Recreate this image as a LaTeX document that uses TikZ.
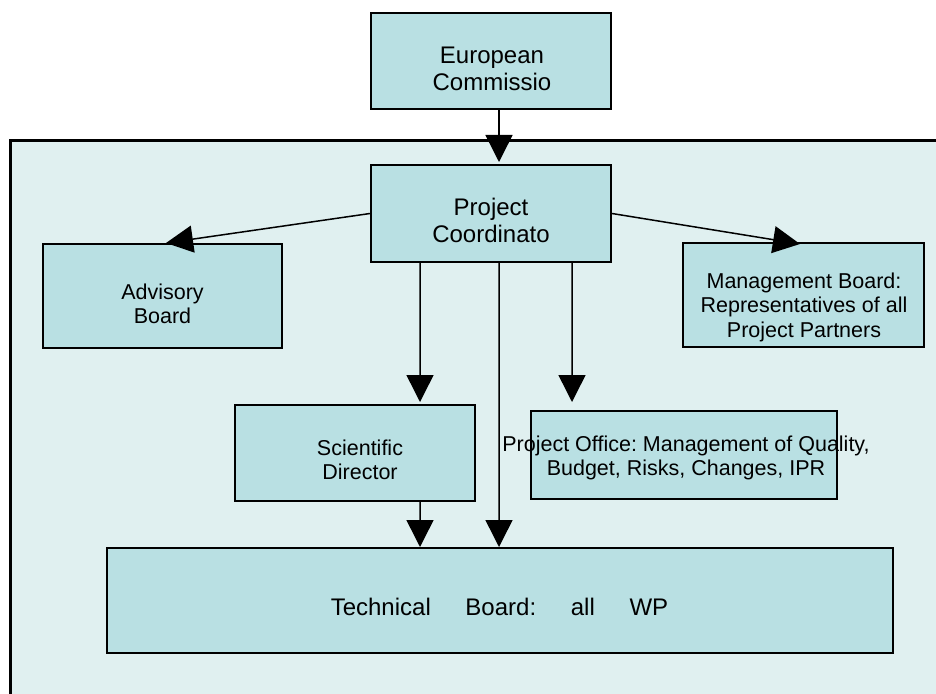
\documentclass[tikz,border=0pt]{standalone}
\usepackage{fontspec}
\setmainfont{Liberation Sans}
\usetikzlibrary{arrows.meta}
\frenchspacing

\definecolor{boxfill}{RGB}{185,224,227}
\definecolor{framefill}{RGB}{224,240,240}

\tikzset{
	box/.style={draw, line width=2bp, fill=boxfill, inner sep=0pt},
	bigtxt/.style={font=\fontsize{24bp}{27bp}\selectfont, align=center, inner sep=0pt},
	smalltxt/.style={font=\fontsize{21.5bp}{24.5bp}\selectfont, align=center, inner sep=0pt},
	arr/.style={line width=1.5bp, -{Triangle[length=27bp,width=27bp]}}
}

\begin{document}
\begin{tikzpicture}[x=1bp,y=-1bp]
		
		% Rahmen
		\useasboundingbox (0,0) rectangle (936,694);
		\fill[framefill] (10.5,140.5) rectangle (936,694);
		\draw[line width=3bp] (10.5,694) |- (936,140.5);
		
		% Kaesten
		\node[box, minimum width=240bp, minimum height=96bp] (ec) at (491,61) {};
		\node[box, minimum width=240bp, minimum height=97bp] (pc) at (491,213.5) {};
		\node[box, minimum width=239bp, minimum height=104bp] (ab) at (162.5,296) {};
		\node[box, minimum width=241bp, minimum height=104bp] (mb) at (803.5,295) {};
		\node[box, minimum width=240bp, minimum height=96bp] (sd) at (355,453) {};
		\node[box, minimum width=306bp, minimum height=88bp] (po) at (684,455) {};
		\node[box, minimum width=786bp, minimum height=105bp] (tb) at (500,600.5) {};
		
		% Beschriftungen
		\node[bigtxt] (ectxt) at (492,68.5) {European\\Commissio};
		\node[bigtxt] (pctxt) at (491,220) {Project\\Coordinato};
		\node[smalltxt] (abtxt) at (162.5,304) {Advisory\\Board};
		\node[smalltxt] (mbtxt) at (804,307) {Management Board:\\Representatives of all\\Project Partners};
		\node[smalltxt] (sdtxt) at (360,460) {Scientific\\Director};
		\node[smalltxt] (potxt) at (686,458) {Project Office: Management of Quality,\\Budget, Risks, Changes, IPR};
		\node[bigtxt] (tbtxt) at (499.5,606.5) {Technical\hspace{28bp} Board:\hspace{28bp} all\hspace{28bp} WP};
		
		% Pfeile
		\draw[arr] ([xshift=8bp]ec.south) -- ([xshift=8bp,yshift=2bp]pc.north);
		\draw[arr] (pc.west) -- ([xshift=3.5bp]ab.north);
		\draw[arr] (pc.east) -- ([xshift=-3.5bp,yshift=-2bp]mb.north);
		\draw[arr] ([xshift=-71bp]pc.south) -- ([xshift=65bp,yshift=2bp]sd.north);
		\draw[arr] ([xshift=81bp]pc.south) -- ([xshift=-112bp,yshift=8bp]po.north);
		\draw[arr] ([xshift=8bp]pc.south) -- ([xshift=-1bp]tb.north);
		\draw[arr] ([xshift=65bp]sd.south) -- ([xshift=-80bp]tb.north);
		
	\end{tikzpicture}
\end{document}
